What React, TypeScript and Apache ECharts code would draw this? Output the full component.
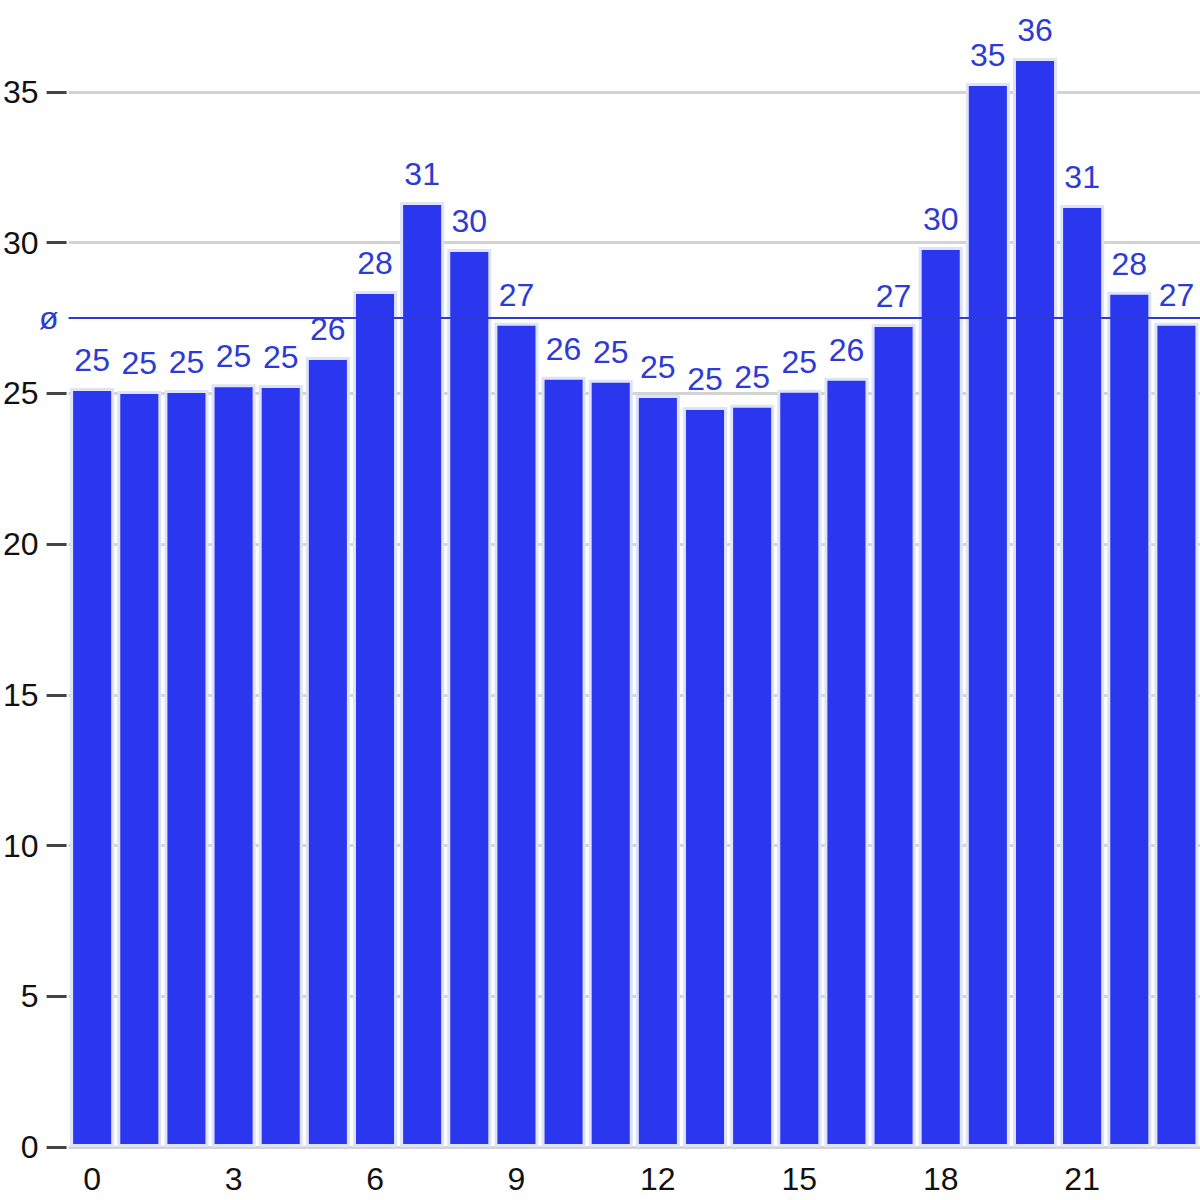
import React, { useEffect, useRef } from "react";
import * as echarts from "echarts";

const categories = Array.from({ length: 24 }, (_, i) => String(i));
const values = [
  25.18, 25.08, 25.11, 25.3, 25.28, 26.21, 28.4, 31.35, 29.79, 27.34, 25.55, 25.45,
  24.95, 24.55, 24.62, 25.12, 25.52, 27.3, 29.86, 35.3, 36.13, 31.25, 28.37, 27.34,
];
const yTicks = [0, 5, 10, 15, 20, 25, 30, 35];

const BAR = "#2b37ef";
const LABEL = "#2d3ad6";
const FONT = "Liberation Sans, Arial, sans-serif";

export default function App() {
  const ref = useRef<HTMLDivElement>(null);
  useEffect(() => {
    const chart = echarts.init(ref.current!, null, { renderer: "svg" });
    chart.setOption({
      animation: false,
      grid: { left: 66, right: 0, top: 0, bottom: 53, containLabel: false },
      xAxis: {
        type: "category",
        data: categories,
        axisLine: { show: false },
        axisTick: { show: false },
        axisLabel: {
          interval: 2,
          color: "#111",
          fontSize: 32,
          fontFamily: FONT,
          margin: 16,
        },
      },
      yAxis: {
        type: "value",
        min: 0,
        max: 38.05,
        offset: 2,
        axisLine: { show: false },
        axisTick: {
          show: true,
          length: 20,
          customValues: yTicks,
          lineStyle: { color: "#444", width: 3 },
        },
        axisLabel: {
          color: "#111",
          fontSize: 32,
          fontFamily: FONT,
          margin: 28,
          customValues: yTicks,
        },
        splitLine: { show: true, lineStyle: { color: "#d3d3d3", width: 3 } },
      },
      series: [
        {
          type: "bar",
          data: values,
          barCategoryGap: "6.5%",
          itemStyle: { color: BAR, borderColor: "#dfe3f8", borderWidth: 3 },
          label: {
            show: true,
            position: "top",
            distance: 12,
            color: LABEL,
            fontSize: 32,
            fontFamily: FONT,
            formatter: (p: any) => String(Math.round(p.value)),
          },
          markLine: {
            silent: true,
            symbol: "none",
            lineStyle: { color: LABEL, width: 2, type: "solid" },
            label: {
              show: true,
              position: "start",
              formatter: "ø",
              color: LABEL,
              fontSize: 32,
              fontFamily: FONT,
              distance: 10,
            },
            data: [{ type: "average" }],
          },
        },
      ],
    });
    return () => chart.dispose();
  }, []);
  return <div ref={ref} style={{ width: 1200, height: 1200, position: "absolute", left: 0, top: 0 }} />;
}
